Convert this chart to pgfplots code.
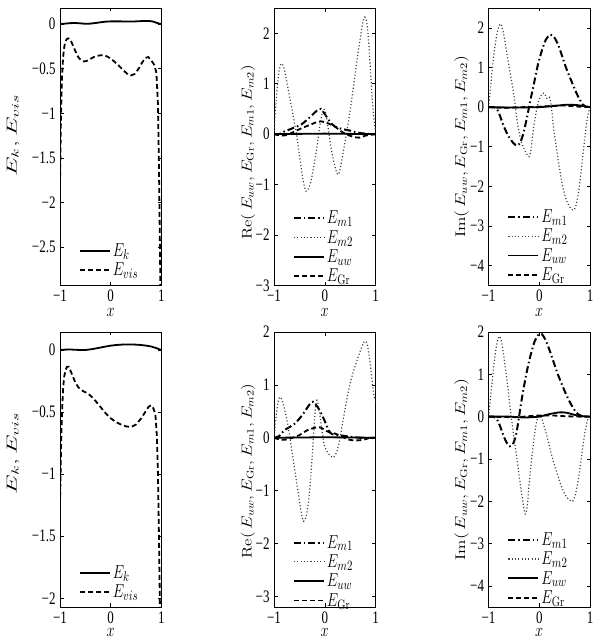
\documentclass[border=0pt]{standalone}
\usepackage{pgfplots}
\pgfplotsset{compat=1.18}
\usepackage{fontspec}
\newfontfamily\tickfont{Liberation Serif}
\newcommand\vs[1]{\scalebox{1}[1.3]{#1}}
\newcommand\tk[1]{\scalebox{1}[1.35]{\tickfont #1}}
\pgfplotsset{
 panel/.style={
  scale only axis, width=101.5pt,
  xmin=-1, xmax=1, xtick={-1,0,1}, xticklabels={\tk{−1},\tk{0},\tk{1}},
  tick align=inside, major tick length=3.5pt,
  tick style={black, line width=0.5pt},
  axis line style={line width=0.7pt},
  xlabel={\vs{$x$}},
  xlabel style={inner sep=0.5pt, yshift=-5pt},
  label style={font=\fontsize{14}{16}\selectfont},
  ticklabel style={font=\fontsize{13}{15}\selectfont},
  xticklabel style={inner sep=0.5pt, yshift=-3.8pt},
  yticklabel style={inner sep=1pt, xshift=-3.3pt},
  legend style={draw=none, fill=none, anchor=south west,
    font=\fontsize{15}{17}\selectfont, row sep=1pt, inner sep=0pt},
  legend cell align=left,
  legend image code/.code={\draw[##1] (0pt,0pt) -- (30pt,0pt);},
 },
 bottomrow/.style={xlabel style={yshift=1.5pt}},
 ek/.style={black, line width=1.8pt},
 evis/.style={black, line width=1.8pt, dash pattern=on 5pt off 3pt},
 em1/.style={black, line width=2pt, dash pattern=on 7pt off 3pt on 1.5pt off 3pt},
 em2/.style={black!75, line width=1.2pt, dash pattern=on 1.1pt off 2.2pt},
}
\begin{document}
\begin{tikzpicture}[x=1pt,y=1pt]
\useasboundingbox (0,0) rectangle (600,640);
% ---------- top left
\begin{axis}[panel, at={(60pt,354.5pt)}, anchor=south west, height=277.5pt,
  ymin=-2.93, ymax=0.18, ytick={-2.5,-2,-1.5,-1,-0.5,0},
  yticklabels={\tk{−2.5},\tk{−2},\tk{−1.5},\tk{−1},\tk{−0.5},\tk{0}},
  ylabel shift=8pt, ylabel style={at={(ticklabel cs:0.54)}},
  legend style={at={(0.185,0.022)}},
  ylabel={\resizebox{82pt}{\height}{$E_k, E_{vis}$}}]
\addplot[ek] coordinates {(-1,0) (-0.9,0.005) (-0.8,0.01) (-0.7,0.012) (-0.6,0.008) (-0.5,0.003) (-0.4,0.005) (-0.3,0.012) (-0.2,0.02) (-0.1,0.027) (0,0.03) (0.1,0.03) (0.2,0.03) (0.3,0.028) (0.4,0.028) (0.5,0.03) (0.6,0.033) (0.7,0.035) (0.8,0.032) (0.85,0.025) (0.9,0.015) (0.95,0.005) (1,0)};
\addlegendentry{\vs{$E_k$}}
\addplot[evis] coordinates {(-1,-1.8) (-0.98,-1.0) (-0.96,-0.6) (-0.94,-0.38) (-0.92,-0.27) (-0.9,-0.21) (-0.87,-0.17) (-0.84,-0.16) (-0.8,-0.17) (-0.76,-0.22) (-0.7,-0.3) (-0.64,-0.37) (-0.58,-0.41) (-0.52,-0.42) (-0.46,-0.41) (-0.4,-0.39) (-0.3,-0.36) (-0.2,-0.35) (-0.12,-0.35) (-0.05,-0.37) (0.05,-0.41) (0.15,-0.46) (0.25,-0.52) (0.33,-0.56) (0.4,-0.575) (0.47,-0.56) (0.55,-0.5) (0.62,-0.43) (0.68,-0.38) (0.74,-0.37) (0.79,-0.4) (0.86,-0.46) (0.9,-0.55) (0.93,-0.9) (0.95,-1.6) (0.965,-2.3) (0.98,-3.0) (1,-3.2)};
\addlegendentry{\vs{$E_{vis}$}}
\end{axis}
% ---------- top middle
\begin{axis}[panel, at={(274pt,354.5pt)}, anchor=south west, height=277.5pt,
  ymin=-3, ymax=2.5, ytick={-3,-2,-1,0,1,2},
  yticklabels={\tk{−3},\tk{−2},\tk{−1},\tk{0},\tk{1},\tk{2}},
  ylabel shift=-4pt, ylabel style={at={(ticklabel cs:0.48)}},
  legend style={at={(0.185,0.0)}},
  ylabel={\resizebox{175pt}{\height}{$\mathrm{Re}(\,E_{uw}, E_{\mathrm{Gr}}, E_{m1}, E_{m2})$}}]
\addplot[em1, smooth] coordinates {(-1,0) (-0.9,0.0) (-0.8,0.05) (-0.6,0.13) (-0.45,0.2) (-0.3,0.33) (-0.15,0.47) (-0.08,0.5) (0,0.4) (0.1,0.25) (0.2,0.15) (0.35,0.1) (0.5,0.07) (0.65,0.03) (0.8,0.01) (1,0)};
\addlegendentry{\vs{$E_{m1}$}}
\addplot[em2, smooth] coordinates {(-1,0) (-0.97,0.5) (-0.93,1.0) (-0.89,1.3) (-0.85,1.4) (-0.8,1.3) (-0.75,1.05) (-0.69,0.72) (-0.62,0.35) (-0.55,-0.05) (-0.48,-0.55) (-0.42,-0.95) (-0.37,-1.13) (-0.32,-1.08) (-0.27,-0.92) (-0.22,-0.67) (-0.16,-0.3) (-0.1,0.15) (-0.05,0.42) (-0.02,0.5) (0.02,0.42) (0.07,0.1) (0.12,-0.25) (0.18,-0.55) (0.24,-0.78) (0.28,-0.78) (0.33,-0.55) (0.39,-0.2) (0.45,0.15) (0.52,0.6) (0.58,1.05) (0.64,1.5) (0.7,1.9) (0.75,2.22) (0.79,2.32) (0.83,2.2) (0.87,1.75) (0.91,1.1) (0.95,0.5) (1,0.05)};
\addlegendentry{\vs{$E_{m2}$}}
\addplot[ek] coordinates {(-1,0) (-0.5,0.005) (0,0.01) (0.5,0.005) (1,0)};
\addlegendentry{\vs{$E_{uw}$}}
\addplot[evis, smooth] coordinates {(-1,0) (-0.85,-0.03) (-0.75,-0.02) (-0.6,0.05) (-0.45,0.12) (-0.3,0.18) (-0.15,0.24) (-0.05,0.25) (0.05,0.22) (0.2,0.15) (0.3,0.07) (0.42,0.0) (0.55,-0.05) (0.68,-0.07) (0.8,-0.03) (1,0)};
\addlegendentry{\vs{$E_{\mathrm{Gr}}$}}
\end{axis}
% ---------- top right
\begin{axis}[panel, at={(488.5pt,354.5pt)}, anchor=south west, height=277.5pt,
  ymin=-4.5, ymax=2.5, ytick={-4,-3,-2,-1,0,1,2},
  yticklabels={\tk{−4},\tk{−3},\tk{−2},\tk{−1},\tk{0},\tk{1},\tk{2}},
  ylabel shift=-3pt,
  legend style={at={(0.185,0.005)}},
  ylabel={\resizebox{182pt}{\height}{$\mathrm{Im}(\,E_{uw}, E_{\mathrm{Gr}}, E_{m1}, E_{m2})$}}]
\addplot[em1, smooth] coordinates {(-1,0) (-0.9,0.0) (-0.84,-0.03) (-0.78,-0.2) (-0.7,-0.48) (-0.6,-0.75) (-0.5,-0.92) (-0.43,-0.97) (-0.37,-0.88) (-0.31,-0.65) (-0.24,-0.25) (-0.17,0.2) (-0.1,0.62) (-0.03,1.05) (0.05,1.42) (0.13,1.7) (0.22,1.83) (0.3,1.75) (0.38,1.55) (0.46,1.25) (0.54,0.95) (0.62,0.7) (0.7,0.45) (0.78,0.23) (0.86,0.06) (0.92,0.01) (1,0)};
\addlegendentry{\vs{$E_{m1}$}}
\addplot[em2, smooth] coordinates {(-1,0) (-0.96,0.5) (-0.91,1.15) (-0.86,1.65) (-0.81,1.98) (-0.76,2.1) (-0.71,1.9) (-0.65,1.45) (-0.58,0.9) (-0.5,0.3) (-0.43,-0.4) (-0.36,-0.85) (-0.3,-1.05) (-0.24,-1.2) (-0.2,-1.25) (-0.16,-1.05) (-0.11,-0.5) (-0.05,-0.05) (0.0,0.2) (0.05,0.32) (0.1,0.35) (0.15,0.22) (0.2,0.25) (0.24,0.0) (0.28,-0.5) (0.34,-1.05) (0.4,-1.55) (0.47,-2.05) (0.55,-2.4) (0.62,-2.55) (0.67,-2.6) (0.72,-2.5) (0.78,-2.1) (0.84,-1.45) (0.9,-0.75) (0.95,-0.25) (1,0)};
\addlegendentry{\vs{$E_{m2}$}}
\addplot[ek, smooth] coordinates {(-1,0) (-0.5,-0.01) (0,0) (0.3,0.03) (0.55,0.06) (0.75,0.05) (0.9,0.02) (1,0)};
\addlegendentry{\vs{$E_{uw}$}}
\addplot[evis, smooth] coordinates {(-1,0) (-0.7,-0.02) (-0.3,0.0) (0,0.01) (0.4,0.04) (0.6,0.03) (0.8,0.01) (1,0)};
\addlegendentry{\vs{$E_{\mathrm{Gr}}$}}
\end{axis}
% ---------- bottom left
\begin{axis}[panel, bottomrow, at={(60pt,33pt)}, anchor=south west, height=275pt,
  ymin=-2.07, ymax=0.145, ytick={-2,-1.5,-1,-0.5,0},
  yticklabels={\tk{−2},\tk{−1.5},\tk{−1},\tk{−0.5},\tk{0}},
  ylabel shift=8pt, ylabel style={at={(ticklabel cs:0.56)}},
  legend style={at={(0.185,0.02)}},
  ylabel={\resizebox{82pt}{\height}{$E_k, E_{vis}$}}]
\addplot[ek] coordinates {(-1,0) (-0.9,0.003) (-0.8,0.004) (-0.7,0.002) (-0.6,0.0) (-0.5,0.0) (-0.4,0.005) (-0.3,0.012) (-0.2,0.02) (-0.1,0.028) (0,0.035) (0.1,0.04) (0.2,0.043) (0.3,0.045) (0.4,0.045) (0.5,0.043) (0.6,0.04) (0.7,0.035) (0.8,0.028) (0.9,0.015) (0.95,0.007) (1,0)};
\addlegendentry{\vs{$E_k$}}
\addplot[evis] coordinates {(-1,-1.25) (-0.98,-0.8) (-0.96,-0.5) (-0.94,-0.32) (-0.92,-0.22) (-0.89,-0.16) (-0.86,-0.135) (-0.83,-0.135) (-0.8,-0.16) (-0.75,-0.21) (-0.7,-0.26) (-0.64,-0.3) (-0.55,-0.33) (-0.45,-0.35) (-0.38,-0.375) (-0.3,-0.41) (-0.2,-0.46) (-0.1,-0.51) (0,-0.55) (0.1,-0.58) (0.2,-0.6) (0.3,-0.615) (0.4,-0.62) (0.5,-0.6) (0.6,-0.55) (0.68,-0.5) (0.74,-0.46) (0.79,-0.445) (0.84,-0.47) (0.88,-0.52) (0.91,-0.7) (0.93,-1.0) (0.95,-1.5) (0.97,-2.1) (1,-2.5)};
\addlegendentry{\vs{$E_{vis}$}}
\end{axis}
% ---------- bottom middle
\begin{axis}[panel, bottomrow, at={(274pt,33pt)}, anchor=south west, height=275pt,
  ymin=-3.2, ymax=2, ytick={-3,-2,-1,0,1,2},
  yticklabels={\tk{−3},\tk{−2},\tk{−1},\tk{0},\tk{1},\tk{2}},
  ylabel shift=-4pt, ylabel style={at={(ticklabel cs:0.495)}},
  legend style={at={(0.185,-0.01)}},
  ylabel={\resizebox{175pt}{\height}{$\mathrm{Re}(\,E_{uw}, E_{\mathrm{Gr}}, E_{m1}, E_{m2})$}}]
\addplot[em1, smooth] coordinates {(-1,0) (-0.9,0.03) (-0.8,0.14) (-0.6,0.26) (-0.45,0.42) (-0.3,0.63) (-0.23,0.68) (-0.12,0.55) (-0.02,0.36) (0.1,0.1) (0.2,0.06) (0.35,0.04) (0.5,0.02) (0.7,0.0) (1,0)};
\addlegendentry{\vs{$E_{m1}$}}
\addplot[em2, smooth] coordinates {(-1,0) (-0.96,0.4) (-0.92,0.68) (-0.88,0.77) (-0.83,0.68) (-0.77,0.45) (-0.72,0.21) (-0.67,-0.1) (-0.62,-0.42) (-0.57,-0.75) (-0.52,-1.05) (-0.47,-1.38) (-0.42,-1.58) (-0.37,-1.5) (-0.32,-1.2) (-0.28,-0.8) (-0.24,-0.25) (-0.2,0.35) (-0.17,0.68) (-0.14,0.68) (-0.1,0.45) (-0.05,0.1) (0.0,-0.17) (0.06,-0.28) (0.12,-0.35) (0.17,-0.37) (0.22,-0.3) (0.27,-0.15) (0.32,0.1) (0.37,0.38) (0.43,0.7) (0.5,1.03) (0.58,1.3) (0.66,1.53) (0.73,1.72) (0.79,1.83) (0.84,1.75) (0.89,1.45) (0.93,1.1) (0.97,0.8) (1,0.7)};
\addlegendentry{\vs{$E_{m2}$}}
\addplot[ek] coordinates {(-1,0) (-0.5,0.005) (0,0.01) (0.5,0.005) (1,0)};
\addlegendentry{\vs{$E_{uw}$}}
\addplot[evis, smooth] coordinates {(-1,0) (-0.85,-0.04) (-0.7,-0.02) (-0.5,0.05) (-0.35,0.14) (-0.15,0.2) (-0.05,0.18) (0.05,0.12) (0.2,0.08) (0.3,0.04) (0.45,-0.03) (0.6,-0.05) (0.75,-0.04) (0.9,0.0) (1,0)};
\addlegendentry{\vs{$E_{\mathrm{Gr}}$}}
\end{axis}
% ---------- bottom right
\begin{axis}[panel, bottomrow, at={(488.5pt,33pt)}, anchor=south west, height=275pt,
  ymin=-4.5, ymax=2, ytick={-4,-3,-2,-1,0,1,2},
  yticklabels={\tk{−4},\tk{−3},\tk{−2},\tk{−1},\tk{0},\tk{1},\tk{2}},
  ylabel shift=-3pt,
  legend style={at={(0.185,0.0)}},
  ylabel={\resizebox{182pt}{\height}{$\mathrm{Im}(\,E_{uw}, E_{\mathrm{Gr}}, E_{m1}, E_{m2})$}}]
\addplot[em1, smooth] coordinates {(-1,0) (-0.9,0.0) (-0.84,-0.05) (-0.78,-0.2) (-0.72,-0.4) (-0.65,-0.6) (-0.58,-0.7) (-0.52,-0.65) (-0.46,-0.45) (-0.41,-0.1) (-0.36,0.3) (-0.3,0.72) (-0.23,1.15) (-0.16,1.5) (-0.09,1.78) (-0.02,1.93) (0.05,1.95) (0.12,1.82) (0.2,1.58) (0.28,1.3) (0.36,1.02) (0.44,0.78) (0.52,0.55) (0.6,0.35) (0.68,0.18) (0.76,0.06) (0.84,0.01) (1,0)};
\addlegendentry{\vs{$E_{m1}$}}
\addplot[em2, smooth] coordinates {(-1,0) (-0.96,0.45) (-0.91,1.05) (-0.86,1.55) (-0.82,1.8) (-0.78,1.9) (-0.74,1.75) (-0.69,1.35) (-0.63,0.8) (-0.57,0.17) (-0.51,-0.4) (-0.45,-0.9) (-0.39,-1.45) (-0.33,-1.95) (-0.28,-2.3) (-0.24,-2.15) (-0.2,-1.6) (-0.15,-1.0) (-0.1,-0.5) (-0.05,-0.1) (0.0,0.02) (0.05,-0.05) (0.1,-0.25) (0.16,-0.5) (0.23,-0.85) (0.3,-1.15) (0.38,-1.45) (0.46,-1.72) (0.54,-1.9) (0.61,-1.98) (0.66,-2.0) (0.71,-1.85) (0.76,-1.55) (0.81,-1.15) (0.86,-0.7) (0.91,-0.3) (0.96,-0.05) (1,0.0)};
\addlegendentry{\vs{$E_{m2}$}}
\addplot[ek, smooth] coordinates {(-1,0) (-0.6,0.0) (-0.3,-0.02) (0,0.0) (0.2,0.06) (0.4,0.1) (0.55,0.09) (0.7,0.04) (0.85,0.01) (1,0)};
\addlegendentry{\vs{$E_{uw}$}}
\addplot[evis, smooth] coordinates {(-1,0) (-0.7,-0.01) (-0.4,-0.01) (-0.1,0.02) (0.2,0.03) (0.5,0.01) (0.8,0.0) (1,0)};
\addlegendentry{\vs{$E_{\mathrm{Gr}}$}}
\end{axis}
\end{tikzpicture}
\end{document}
